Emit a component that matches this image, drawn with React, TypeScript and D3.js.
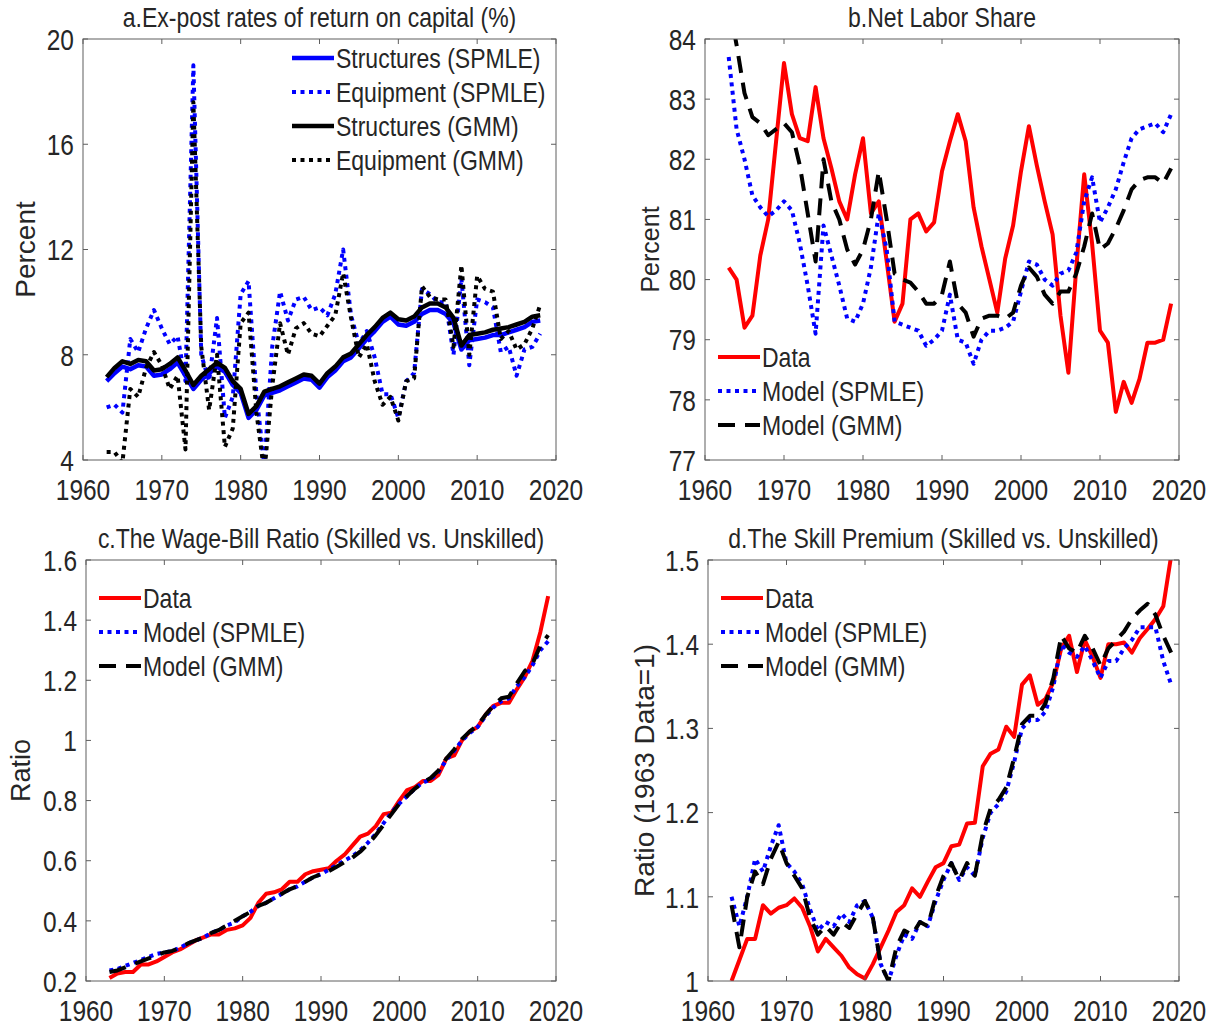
import React from 'react';
import * as d3 from 'd3';

// ---- data -------------------------------------------------------------
const YEARS = [
  1963, 1964, 1965, 1966, 1967, 1968, 1969, 1970, 1971, 1972, 1973, 1974, 1975, 1976, 1977, 1978, 1979,
  1980, 1981, 1982, 1983, 1984, 1985, 1986, 1987, 1988, 1989, 1990, 1991, 1992, 1993, 1994, 1995, 1996,
  1997, 1998, 1999, 2000, 2001, 2002, 2003, 2004, 2005, 2006, 2007, 2008, 2009, 2010, 2011, 2012, 2013,
  2014, 2015, 2016, 2017, 2018, 2019,
];

// a. ex-post rates of return on capital (1963-2018)
const structuresSPMLE = [
  7.0, 7.3, 7.55, 7.45, 7.6, 7.55, 7.2, 7.25, 7.45, 7.7, 7.2, 6.7, 7.05, 7.3, 7.55, 7.35, 6.85, 6.55,
  5.6, 5.9, 6.45, 6.55, 6.65, 6.8, 6.95, 7.1, 7.05, 6.75, 7.15, 7.4, 7.75, 7.9, 8.25, 8.6, 8.9, 9.25,
  9.45, 9.15, 9.1, 9.25, 9.55, 9.7, 9.7, 9.55, 9.2, 8.2, 8.55, 8.6, 8.65, 8.75, 8.75, 8.85, 8.95, 9.05,
  9.25, 9.3,
];
const equipmentSPMLE = [
  6.0, 6.1, 5.8, 8.6, 8.1, 9.0, 9.7, 9.0, 8.4, 8.7, 7.0, 19.0, 8.0, 7.0, 9.4, 5.6, 6.4, 10.3, 10.8, 6.5,
  3.8, 8.3, 10.4, 9.3, 10.1, 10.2, 9.7, 9.8, 9.5, 10.3, 12.0, 9.5, 8.4, 8.9, 7.9, 6.5, 6.5, 5.6, 7.0,
  7.3, 10.5, 10.3, 10.0, 10.0, 8.0, 10.9, 7.6, 10.1, 10.0, 9.8, 8.1, 8.3, 7.2, 8.2, 8.3, 8.8,
];
const structuresGMM = [
  7.15, 7.5, 7.75, 7.65, 7.8, 7.75, 7.4, 7.45, 7.65, 7.9, 7.4, 6.85, 7.2, 7.45, 7.7, 7.5, 7.0, 6.7,
  5.75, 6.05, 6.6, 6.7, 6.8, 6.95, 7.1, 7.25, 7.2, 6.9, 7.3, 7.55, 7.9, 8.05, 8.4, 8.75, 9.05, 9.4,
  9.6, 9.35, 9.3, 9.45, 9.8, 9.95, 9.95, 9.8, 9.4, 8.35, 8.75, 8.8, 8.85, 8.95, 9.0, 9.05, 9.15, 9.25,
  9.45, 9.5,
];
const equipmentGMM = [
  4.3, 4.3, 3.9, 6.7, 6.4, 7.5, 8.1, 7.6, 6.7, 7.2, 4.4, 17.6, 8.3, 5.9, 8.0, 4.5, 5.2, 9.2, 9.6, 5.8,
  3.5, 6.8, 9.2, 8.0, 9.0, 9.2, 8.8, 8.7, 9.1, 9.5, 11.1, 9.4, 7.9, 8.4, 7.0, 6.1, 6.4, 5.5, 7.0, 7.1,
  10.6, 10.2, 10.1, 10.1, 8.3, 11.4, 8.0, 11.0, 10.5, 10.4, 8.6, 8.9, 8.2, 8.4, 9.0, 9.9,
];

// b. net labor share (1963-2019)
const laborData = [
  80.2, 80.0, 79.2, 79.4, 80.4, 81.0, 82.3, 83.6, 82.75, 82.35, 82.3, 83.2, 82.35, 81.85, 81.3, 81.0,
  81.75, 82.35, 81.1, 81.3, 80.3, 79.3, 79.6, 81.0, 81.1, 80.8, 80.95, 81.8, 82.3, 82.75, 82.3, 81.2,
  80.55, 80.0, 79.45, 80.35, 80.9, 81.8, 82.55, 81.9, 81.3, 80.75, 79.4, 78.45, 80.2, 81.75, 80.6,
  79.15, 78.95, 77.8, 78.3, 77.95, 78.35, 78.95, 78.95, 79.0, 79.6,
];
const laborSPMLE = [
  83.7, 82.5, 82.0, 81.4, 81.2, 81.05, 81.15, 81.3, 81.15, 80.6, 79.9, 79.1, 80.9, 80.4, 79.9, 79.35,
  79.3, 79.6, 80.2, 81.1, 80.5, 79.3, 79.25, 79.2, 79.15, 78.9, 79.0, 79.15, 79.75, 79.0, 78.95, 78.6,
  79.0, 79.15, 79.15, 79.2, 79.3, 79.8, 80.3, 80.25, 80.0, 79.9, 80.1, 80.15, 80.45, 81.3, 81.7, 80.95,
  81.2, 81.5, 81.95, 82.35, 82.5, 82.55, 82.6, 82.45, 82.75,
];
const laborGMM = [
  84.6, 83.9, 83.1, 82.7, 82.6, 82.4, 82.5, 82.6, 82.45, 81.9, 81.1, 80.3, 82.0, 81.3, 81.0, 80.5,
  80.25, 80.5, 81.0, 81.8, 81.0, 80.1, 80.0, 79.95, 79.8, 79.6, 79.6, 79.75, 80.3, 79.6, 79.45, 79.05,
  79.35, 79.4, 79.4, 79.35, 79.45, 79.9, 80.2, 80.05, 79.75, 79.6, 79.8, 79.8, 80.1, 80.55, 81.1, 80.5,
  80.6, 80.85, 81.15, 81.5, 81.65, 81.7, 81.7, 81.6, 81.85,
];

// c. wage-bill ratio (1963-2019)
const wageData = [
  0.21, 0.225, 0.23, 0.23, 0.255, 0.255, 0.265, 0.28, 0.295, 0.305, 0.32, 0.335, 0.345, 0.355, 0.355,
  0.37, 0.375, 0.385, 0.41, 0.46, 0.49, 0.495, 0.505, 0.53, 0.53, 0.555, 0.565, 0.57, 0.575, 0.6, 0.62,
  0.65, 0.68, 0.69, 0.715, 0.755, 0.76, 0.8, 0.835, 0.845, 0.865, 0.865, 0.885, 0.94, 0.95, 1.0, 1.03,
  1.045, 1.085, 1.115, 1.125, 1.125, 1.17, 1.21, 1.265, 1.36, 1.48,
];
const wageSPMLE = [
  0.235, 0.24, 0.25, 0.26, 0.27, 0.28, 0.29, 0.295, 0.3, 0.31, 0.325, 0.335, 0.345, 0.36, 0.37, 0.385,
  0.395, 0.415, 0.43, 0.45, 0.46, 0.475, 0.49, 0.505, 0.515, 0.53, 0.545, 0.555, 0.57, 0.585, 0.6,
  0.615, 0.635, 0.66, 0.69, 0.725, 0.76, 0.79, 0.815, 0.84, 0.86, 0.87, 0.895, 0.935, 0.965, 1.0, 1.025,
  1.045, 1.08, 1.11, 1.13, 1.14, 1.18, 1.21, 1.25, 1.3, 1.33,
];
const wageGMM = [
  0.23, 0.235, 0.245, 0.255, 0.265, 0.275, 0.285, 0.295, 0.3, 0.31, 0.325, 0.335, 0.345, 0.36, 0.37,
  0.385, 0.4, 0.415, 0.43, 0.45, 0.46, 0.475, 0.49, 0.505, 0.515, 0.53, 0.545, 0.555, 0.565, 0.58, 0.595,
  0.61, 0.63, 0.655, 0.685, 0.72, 0.755, 0.79, 0.815, 0.84, 0.86, 0.875, 0.9, 0.94, 0.97, 1.005, 1.03,
  1.05, 1.085, 1.115, 1.14, 1.145, 1.19, 1.23, 1.255, 1.315, 1.35,
];

// d. skill premium (1963-2019)
const premiumData = [
  1.0, 1.025, 1.05, 1.05, 1.09, 1.08, 1.087, 1.09, 1.098, 1.087, 1.065, 1.035, 1.05, 1.04, 1.03, 1.016,
  1.008, 1.003, 1.02, 1.04, 1.06, 1.082, 1.09, 1.11, 1.1, 1.118, 1.135, 1.14, 1.16, 1.162, 1.187, 1.188,
  1.255, 1.27, 1.275, 1.302, 1.29, 1.352, 1.363, 1.328, 1.335, 1.355, 1.395, 1.41, 1.367, 1.405, 1.385,
  1.36, 1.4, 1.4, 1.402, 1.39, 1.407, 1.418, 1.43, 1.445, 1.505,
];
const premiumSPMLE = [
  1.1, 1.065, 1.1, 1.145, 1.13, 1.16, 1.185, 1.14, 1.13, 1.115, 1.085, 1.06, 1.07, 1.065, 1.08, 1.07,
  1.09, 1.095, 1.075, 1.02, 1.0, 1.03, 1.055, 1.05, 1.07, 1.065, 1.095, 1.12, 1.14, 1.12, 1.135, 1.125,
  1.17, 1.2, 1.21, 1.225, 1.26, 1.3, 1.31, 1.31, 1.32, 1.35, 1.4, 1.39, 1.385, 1.398, 1.38, 1.36, 1.38,
  1.38, 1.395, 1.405, 1.42, 1.42, 1.42, 1.38, 1.352,
];
const premiumGMM = [
  1.09, 1.04, 1.1, 1.13, 1.115, 1.145, 1.165, 1.14, 1.125, 1.11, 1.075, 1.055, 1.065, 1.055, 1.07, 1.063,
  1.08, 1.095, 1.075, 1.02, 1.0, 1.04, 1.06, 1.055, 1.07, 1.065, 1.1, 1.125, 1.14, 1.12, 1.14, 1.125,
  1.175, 1.205, 1.215, 1.23, 1.265, 1.305, 1.315, 1.315, 1.33, 1.36, 1.41, 1.395, 1.39, 1.41, 1.395,
  1.375, 1.395, 1.405, 1.415, 1.43, 1.44, 1.448, 1.435, 1.41, 1.39,
];

const X_TICKS = [1960, 1970, 1980, 1990, 2000, 2010, 2020];
const RATE_TICKS = [4, 8, 12, 16, 20];
const LABOR_TICKS = [77, 78, 79, 80, 81, 82, 83, 84];
const WAGE_TICKS = [0.2, 0.4, 0.6, 0.8, 1, 1.2, 1.4, 1.6];
const PREMIUM_TICKS = [1, 1.1, 1.2, 1.3, 1.4, 1.5];

// ---- styling ----------------------------------------------------------
const FONT = "'Liberation Sans', Arial, Helvetica, sans-serif";
const INK = '#262626';
const SY = 1.22; // vertical stretch used for the narrow MATLAB-like lettering
const DOT = '4 4.5';
const DASH = '17 10';

type Style = { color: string; width: number; dash?: string };
type Series = { values: number[]; style: Style; label: string };

function Txt(props: {
  x: number; y: number; size: number; anchor?: string; sy?: number; children: React.ReactNode;
}) {
  const { x, y, size, anchor = 'start', sy = SY, children } = props;
  return (
    <text
      transform={`translate(${x},${y}) scale(1,${sy})`}
      fontSize={size}
      textAnchor={anchor as any}
      fill={INK}
      fontFamily={FONT}
    >
      {children}
    </text>
  );
}

type PanelProps = {
  id: string;
  left: number; right: number; top: number; bottom: number;
  yDomain: [number, number];
  yTicks: number[];
  title: string;
  titleY: number;
  ylabel: string;
  ylabelX: number;
  ylabelSize: number;
  series: Series[];
  legendX: number; // start of the sample line
  legendY: number; // centre of first row
};

function Panel(p: PanelProps) {
  const x = d3.scaleLinear().domain([1960, 2020]).range([p.left, p.right]);
  const y = d3.scaleLinear().domain(p.yDomain).range([p.bottom, p.top]);
  const line = d3
    .line<[number, number]>()
    .x((d) => x(d[0]))
    .y((d) => y(d[1]));
  const cx = (p.left + p.right) / 2;
  const cy = (p.top + p.bottom) / 2;
  const tickLen = 5;
  const axisColor = '#5e5e5e';
  const tickSize = 24.5;
  const legSize = 23;
  const rowH = 34;
  const sampleW = 42;

  return (
    <g>
      <defs>
        <clipPath id={`clip-${p.id}`}>
          <rect x={p.left} y={p.top} width={p.right - p.left} height={p.bottom - p.top} />
        </clipPath>
      </defs>
      <rect x={p.left} y={p.top} width={p.right - p.left} height={p.bottom - p.top} fill="#fff" />

      {/* data lines */}
      <g clipPath={`url(#clip-${p.id})`}>
        {p.series.map((s, i) => {
          const pts = s.values.map((v, k) => [YEARS[k], v] as [number, number]);
          return (
            <path
              key={i}
              d={line(pts) || ''}
              fill="none"
              stroke={s.style.color}
              strokeWidth={s.style.width}
              strokeDasharray={s.style.dash}
              strokeLinejoin="round"
            />
          );
        })}
      </g>

      {/* box and ticks */}
      <rect
        x={p.left}
        y={p.top}
        width={p.right - p.left}
        height={p.bottom - p.top}
        fill="none"
        stroke={axisColor}
        strokeWidth={1}
      />
      {X_TICKS.map((t) => (
        <g key={`x${t}`}>
          <line x1={x(t)} x2={x(t)} y1={p.bottom} y2={p.bottom - tickLen} stroke={axisColor} />
          <line x1={x(t)} x2={x(t)} y1={p.top} y2={p.top + tickLen} stroke={axisColor} />
          <Txt x={x(t)} y={p.bottom + 40} size={tickSize} anchor="middle">
            {String(t)}
          </Txt>
        </g>
      ))}
      {p.yTicks.map((t) => (
        <g key={`y${t}`}>
          <line x1={p.left} x2={p.left + tickLen} y1={y(t)} y2={y(t)} stroke={axisColor} />
          <line x1={p.right} x2={p.right - tickLen} y1={y(t)} y2={y(t)} stroke={axisColor} />
          <Txt x={p.left - 9} y={y(t) + 0.36 * tickSize * SY} size={tickSize} anchor="end">
            {d3.format('~g')(t)}
          </Txt>
        </g>
      ))}

      {/* title and y label */}
      <Txt x={cx} y={p.titleY} size={23} anchor="middle">
        {p.title}
      </Txt>
      <text
        transform={`translate(${p.ylabelX},${cy}) rotate(-90)`}
        fontSize={p.ylabelSize}
        textAnchor="middle"
        fill={INK}
        fontFamily={FONT}
      >
        {p.ylabel}
      </text>

      {/* legend */}
      {p.series.map((s, i) => {
        const ry = p.legendY + i * rowH;
        return (
          <g key={`l${i}`}>
            <line
              x1={p.legendX}
              x2={p.legendX + sampleW}
              y1={ry}
              y2={ry}
              stroke={s.style.color}
              strokeWidth={s.style.width}
              strokeDasharray={s.style.dash}
            />
            <Txt x={p.legendX + sampleW + 2} y={ry + 0.36 * legSize * SY} size={legSize}>
              {s.label}
            </Txt>
          </g>
        );
      })}
    </g>
  );
}

const redSolid: Style = { color: '#ff0000', width: 4 };
const blueDot: Style = { color: '#0000ff', width: 4, dash: DOT };
const blackDash: Style = { color: '#000000', width: 4, dash: DASH };

export default function App() {
  return (
    <svg
      width={1215}
      height={1028}
      style={{ position: 'absolute', left: 0, top: 0, display: 'block', background: '#fff' }}
    >
      <rect width={1215} height={1028} fill="#fff" />
      <Panel
        id="a"
        left={83}
        right={556}
        top={39}
        bottom={460}
        yDomain={[4, 20]}
        yTicks={RATE_TICKS}
        title="a.Ex-post rates of return on capital (%)"
        titleY={27}
        ylabel="Percent"
        ylabelX={35}
        ylabelSize={28}
        legendX={292}
        legendY={58}
        series={[
          { values: structuresSPMLE, style: { color: '#0000ff', width: 4.5 }, label: 'Structures (SPMLE)' },
          { values: equipmentSPMLE, style: blueDot, label: 'Equipment (SPMLE)' },
          { values: structuresGMM, style: { color: '#000000', width: 4.5 }, label: 'Structures (GMM)' },
          { values: equipmentGMM, style: { color: '#000000', width: 4, dash: DOT }, label: 'Equipment (GMM)' },
        ]}
      />
      <Panel
        id="b"
        left={705}
        right={1179}
        top={39}
        bottom={460}
        yDomain={[77, 84]}
        yTicks={LABOR_TICKS}
        title="b.Net Labor Share"
        titleY={27}
        ylabel="Percent"
        ylabelX={659}
        ylabelSize={25}
        legendX={718}
        legendY={357}
        series={[
          { values: laborData, style: redSolid, label: 'Data' },
          { values: laborSPMLE, style: blueDot, label: 'Model (SPMLE)' },
          { values: laborGMM, style: blackDash, label: 'Model (GMM)' },
        ]}
      />
      <Panel
        id="c"
        left={86}
        right={556}
        top={560}
        bottom={981}
        yDomain={[0.2, 1.6]}
        yTicks={WAGE_TICKS}
        title="c.The Wage-Bill Ratio (Skilled vs. Unskilled)"
        titleY={548}
        ylabel="Ratio"
        ylabelX={30}
        ylabelSize={27}
        legendX={99}
        legendY={598}
        series={[
          { values: wageData, style: redSolid, label: 'Data' },
          { values: wageSPMLE, style: blueDot, label: 'Model (SPMLE)' },
          { values: wageGMM, style: blackDash, label: 'Model (GMM)' },
        ]}
      />
      <Panel
        id="d"
        left={708}
        right={1179}
        top={560}
        bottom={981}
        yDomain={[1, 1.5]}
        yTicks={PREMIUM_TICKS}
        title="d.The Skill Premium (Skilled vs. Unskilled)"
        titleY={548}
        ylabel="Ratio (1963 Data=1)"
        ylabelX={654}
        ylabelSize={28}
        legendX={721}
        legendY={598}
        series={[
          { values: premiumData, style: redSolid, label: 'Data' },
          { values: premiumSPMLE, style: blueDot, label: 'Model (SPMLE)' },
          { values: premiumGMM, style: blackDash, label: 'Model (GMM)' },
        ]}
      />
    </svg>
  );
}
